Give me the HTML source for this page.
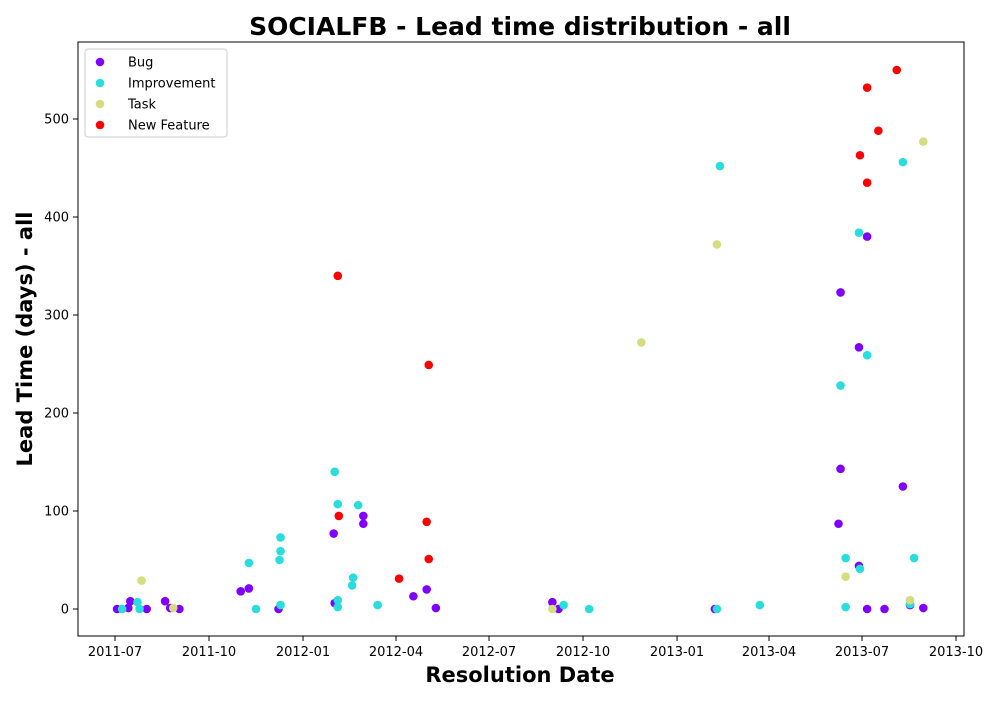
<!DOCTYPE html>
<html><head><meta charset="utf-8"><style>
body{margin:0;background:#fff;}
svg text{font-family:"DejaVu Sans","Liberation Sans",sans-serif;}
</style></head><body>
<svg id="chart" width="1000" height="700" xmlns="http://www.w3.org/2000/svg">
<rect width="1000" height="700" fill="#fff"/>
<text x="520" y="35" text-anchor="middle" font-size="25" font-weight="bold">SOCIALFB - Lead time distribution - all</text>
<text x="520" y="682" text-anchor="middle" font-size="21" font-weight="bold">Resolution Date</text>
<text transform="translate(32,339) rotate(-90)" text-anchor="middle" font-size="21" font-weight="bold">Lead Time (days) - all</text>
<g id="ticks"></g>
<g id="marks"></g>
<rect x="78" y="42" width="886" height="594" fill="none" stroke="#000" stroke-width="1"/>
<g id="legend"></g>
</svg>
<script>
// Days since 2011-07-01
const bugDays=[2,15,13,31,49,54,63,123,131,160,214,215,243,243,292,305,314,428,434,587,710,710,708,728,728,736,736,753,771,778,791];
const bugValues=[0,8,1,0,8,1,0,18,21,0,77,6,95,87,13,20,1,7,0,0,323,143,87,267,44,380,0,0,125,4,1];
const impDays=[7,22,24,131,162,162,161,138,162,215,218,238,233,232,218,218,257,439,464,589,592,631,710,715,715,728,729,736,771,782,778];
const impValues=[0,7,0,47,73,59,50,0,4,140,107,106,32,24,9,2,4,4,0,0,452,4,228,52,2,384,41,259,456,52,5];
const taskDays=[26,57,428,515,589,715,778,791];
const taskValues=[29,1,0,272,372,33,9,477];
const nfDays=[218,219,307,305,307,278,729,736,736,747,765];
const nfValues=[340,95,249,89,51,31,463,532,435,488,550];
const seriesNames=["Bug","Improvement","Task","New Feature"];
const yTicks=[0,100,200,300,400,500];
const xTickLabels=["2011-07","2011-10","2012-01","2012-04","2012-07","2012-10","2013-01","2013-04","2013-07","2013-10"];

const colors=["#8000ff","#2adddd","#d4dd80","#ff0000"];
const base=Date.UTC(2011,6,1);
const xs=d=>115+d*1.0219;
const ys=v=>609-v*0.98;
const NS="http://www.w3.org/2000/svg";
const ticks=document.getElementById('ticks');
function mk(tag,attrs,parent){const e=document.createElementNS(NS,tag);for(const k in attrs)e.setAttribute(k,attrs[k]);parent.appendChild(e);return e;}
yTicks.forEach(v=>{
  const y=ys(v);
  const l=mk('line',{x1:73,x2:78,y1:y,y2:y,stroke:'#000'},ticks);
  
  
  const t=mk('text',{x:69,y:y+4.5,'text-anchor':'end','font-size':13},ticks);
  t.textContent=v;
  
  
});
xTickLabels.forEach(s=>{
  const [yr,mo]=s.split('-').map(Number);
  const d=(Date.UTC(yr,mo-1,1)-base)/864e5;
  const x=xs(d);
  const l=mk('line',{x1:x,x2:x,y1:636,y2:641,stroke:'#000'},ticks);
  
  
  const t=mk('text',{x:x,y:656,'text-anchor':'middle','font-size':13},ticks);
  t.textContent=s;
  
  
});
const marks=document.getElementById('marks');
const all=[[bugDays,bugValues],[impDays,impValues],[taskDays,taskValues],[nfDays,nfValues]];
all.forEach((s,i)=>{
  s[0].forEach((d,j)=>{
    const c=mk('circle',{cx:xs(d),cy:ys(s[1][j]),r:4.3,fill:colors[i]},marks);
    
    
  });
});
const lg=document.getElementById('legend');
const box=mk('rect',{x:85,y:49,width:142,height:88,rx:3,fill:'#fff',stroke:'#ccc'},lg);


seriesNames.forEach((n,i)=>{
  const y=62+i*21;
  const c=mk('circle',{cx:100,cy:y,r:4.3,fill:colors[i]},lg);
  
  
  const t=mk('text',{x:128,y:y+4.5,'font-size':13},lg);
  t.textContent=n;
  
  
});
</script>
</body></html>
